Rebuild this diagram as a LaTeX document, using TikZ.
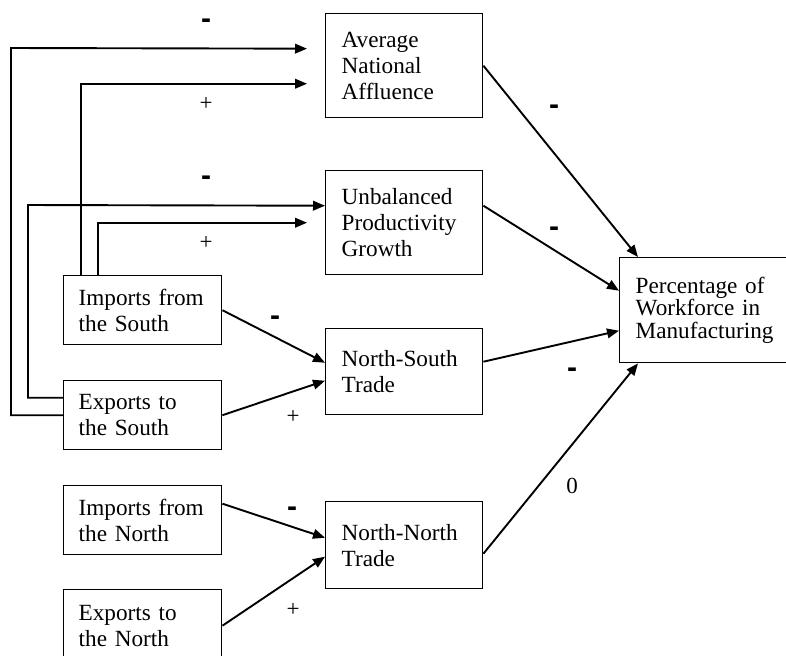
\documentclass[tikz,border=0pt]{standalone}
\usepackage{fontspec}
\setmainfont{Liberation Serif}
\setsansfont{Liberation Sans}
\usepackage{tikz}
\usetikzlibrary{positioning,arrows.meta,calc}

\begin{document}
\begin{tikzpicture}[
      x=0.5pt, y=-0.5pt,
      >={Triangle[length=6pt,width=4.8pt]},
      every path/.style={line width=0.95pt},
      box/.style={draw, line width=0.7pt, anchor=north west, align=left,
                  inner xsep=8pt, inner ysep=0pt,
                  font=\fontsize{11.6}{13}\selectfont},
      factor/.style={box, text width=64pt, inner xsep=7.5pt, minimum height=34.5pt},
      mediator/.style={box, text width=62.5pt, minimum height=52pt},
      tradenode/.style={box, text width=62.5pt, minimum height=43pt},
      outcome/.style={box, text width=69.5pt, minimum height=52.5pt,
                      font=\fontsize{11.6}{11.25}\selectfont},
      sign/.style={font=\fontsize{11.5}{12}\selectfont, inner sep=0pt},
      minus/.style={sign, font=\fontsize{15}{15}\selectfont\sffamily\bfseries},
    ]
    \useasboundingbox (0,0) rectangle (786,655);

    % Mediating variables
    \node[mediator] (ana) at (325,13) {Average\\National\\Affluence};
    \node[mediator] (upg) at (325,170) {Unbalanced\\Productivity\\Growth};
    \node[tradenode] (nst) at (325,328) {North-South\\Trade};
    \node[tradenode, minimum height=43.5pt] (nnt) at (325,501) {North-North\\Trade};

    % Outcome
    \node[outcome] (pwm) at (619,257) {Percentage of\\Workforce in\\Manufacturing};

    % Trade flows
    \node[factor] (ims) at (63,275) {Imports from\\the South};
    \node[factor] (exs) at (63,380) {Exports to\\the South};
    \node[factor] (imn) at (63,485) {Imports from\\the North};
    \node[factor, minimum height=36pt] (exn) at (63,589) {Exports to\\the North};

    % Feedback lines to the mediators
    \draw[->, shorten >=9pt] (exs.west) -| (11,48) -- ([yshift=8.5pt]ana.west);
    \draw[->, shorten >=9pt] ([xshift=9pt]ims.north west) |- ([yshift=-9pt]ana.west);
    \draw[->] ([yshift=8.75pt]exs.west) -| (28,205) -- ([yshift=8.5pt]upg.west);
    \draw[->, shorten >=9pt] ([xshift=17.5pt]ims.north west) |- (upg.west);

    % Trade flows -> trade
    \draw[->] (ims.east) -- ([yshift=4.5pt]nst.west);
    \draw[->] (exs.east) -- ([yshift=-4.5pt]nst.west);
    \draw[->] ([yshift=8.25pt]imn.east) -- ([yshift=3.75pt]nnt.west);
    \draw[->] (exn.east) -- ([yshift=-5.75pt]nnt.west);

    % Mediators -> outcome
    \draw[->] (ana.east) -- ([xshift=9.5pt]pwm.north west);
    \draw[->] ([yshift=8.5pt]upg.east) -- ([yshift=9.75pt]pwm.west);
    \draw[->] ([yshift=5pt]nst.east) -- ([yshift=-10.25pt]pwm.west);
    \draw[->] ([yshift=-4.25pt]nnt.east) -- ([xshift=9.5pt]pwm.south west);

    % Signs
    \node[minus] (s1) at (206,24) {-};
    \node[sign] (s2) at (206,104) {+};
    \node[minus] (s3) at (206,181) {-};
    \node[sign] (s4) at (206,243) {+};
    \node[minus] (s5) at (275,321) {-};
    \node[sign] (s6) at (293,417) {+};
    \node[minus] (s7) at (292,512) {-};
    \node[sign] (s8) at (293,610) {+};
    \node[minus] (s9) at (554,110) {-};
    \node[minus] (s10) at (554,232) {-};
    \node[minus] (s11) at (572,373) {-};
    \node[sign] (s12) at (572,486) {0};
  \end{tikzpicture}
\end{document}
